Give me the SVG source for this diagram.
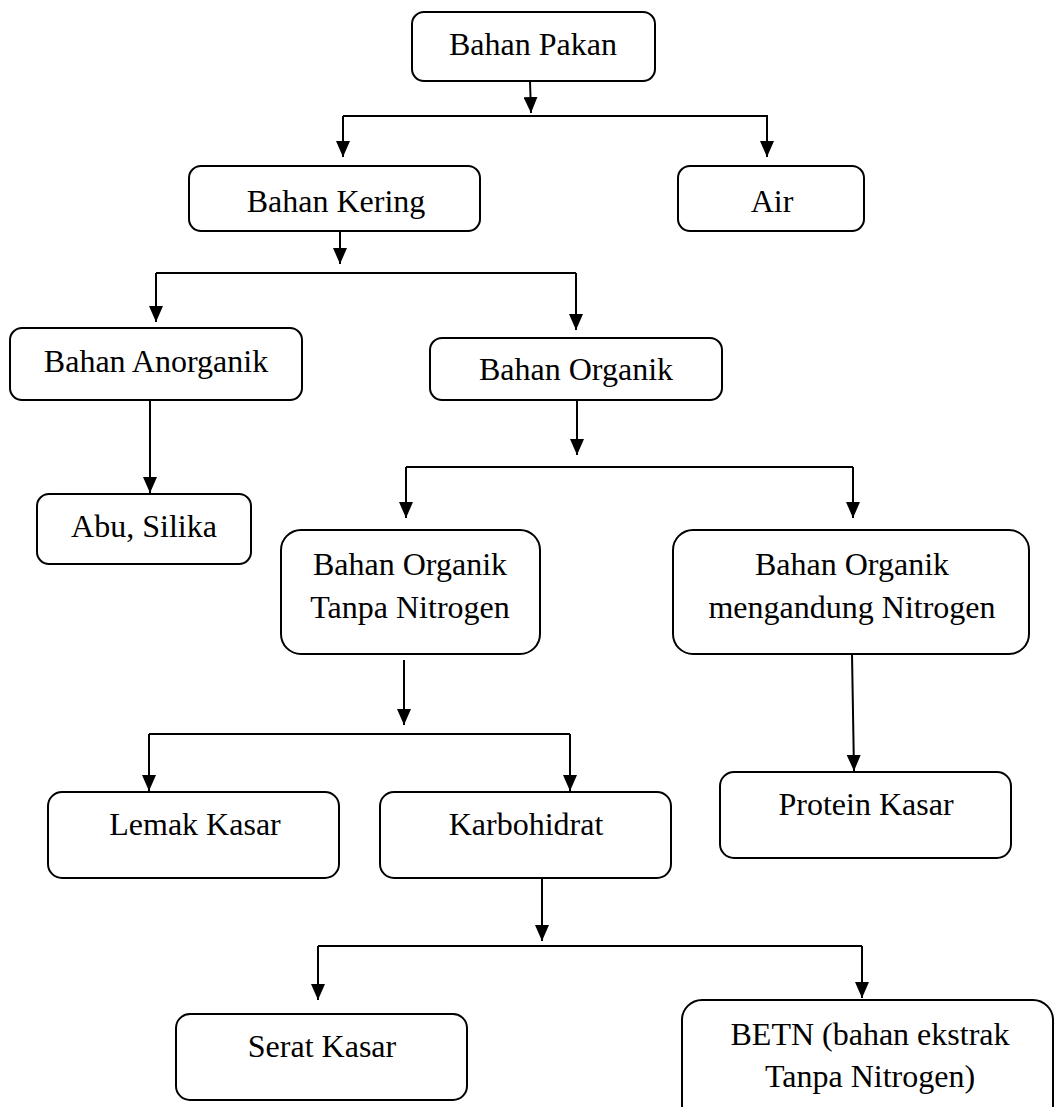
<svg xmlns="http://www.w3.org/2000/svg" width="1054" height="1107" viewBox="0 0 1054 1107">
<style>
.box{fill:#fff;stroke:#000;stroke-width:2}
.lbl{font-family:"Liberation Serif","Times New Roman",serif;font-size:32px;fill:#000;text-anchor:middle}
.con{fill:none;stroke:#000;stroke-width:2}
.arr{marker-end:url(#ah)}
</style>
<defs>
<marker id="ah" viewBox="0 0 16 14" refX="16" refY="7" markerWidth="16" markerHeight="14" markerUnits="userSpaceOnUse" orient="auto">
<path d="M0,0 L16,7 L0,14 z" fill="#000"/>
</marker>
</defs>
<rect width="1054" height="1107" fill="#fff"/>
<g id="connectors">
<path class="con arr" d="M530,81 L531,113"/>
<path class="con" d="M343,116 H768"/>
<path class="con arr" d="M343,116 V157"/>
<path class="con arr" d="M767,116 V157"/>
<path class="con arr" d="M340,231 V264"/>
<path class="con" d="M156,273 H576"/>
<path class="con arr" d="M156,273 V322"/>
<path class="con arr" d="M576,273 V330"/>
<path class="con arr" d="M150,400 V493"/>
<path class="con arr" d="M577,400 V455"/>
<path class="con" d="M406,467 H853"/>
<path class="con arr" d="M406,467 V518"/>
<path class="con arr" d="M853,467 V518"/>
<path class="con arr" d="M404,660 V725"/>
<path class="con" d="M149,734 H570"/>
<path class="con arr" d="M149,734 V791"/>
<path class="con arr" d="M570,734 V791"/>
<path class="con arr" d="M852,654 L854,771"/>
<path class="con arr" d="M542,878 V941"/>
<path class="con" d="M318,946 H862"/>
<path class="con arr" d="M318,946 V1000"/>
<path class="con arr" d="M862,946 V998"/>
</g>
<g id="bahan-pakan"><rect class="box" x="412" y="12" width="243" height="69" rx="12"/><text class="lbl" x="533" y="55">Bahan Pakan</text></g>
<g id="bahan-kering"><rect class="box" x="189" y="166" width="291" height="65" rx="12"/><text class="lbl" x="336" y="212">Bahan Kering</text></g>
<g id="air"><rect class="box" x="678" y="166" width="186" height="65" rx="12"/><text class="lbl" x="772" y="212">Air</text></g>
<g id="bahan-anorganik"><rect class="box" x="10" y="328" width="292" height="72" rx="12"/><text class="lbl" x="156" y="372">Bahan Anorganik</text></g>
<g id="bahan-organik"><rect class="box" x="430" y="338" width="292" height="62" rx="12"/><text class="lbl" x="576" y="380">Bahan Organik</text></g>
<g id="abu-silika"><rect class="box" x="37" y="494" width="214" height="70" rx="12"/><text class="lbl" x="144" y="537">Abu, Silika</text></g>
<g id="organik-tanpa-n"><rect class="box" x="281" y="530" width="259" height="124" rx="20"/><text class="lbl" x="410" y="575">Bahan Organik</text><text class="lbl" x="410" y="618">Tanpa Nitrogen</text></g>
<g id="organik-mengandung-n"><rect class="box" x="673" y="530" width="356" height="124" rx="20"/><text class="lbl" x="852" y="575">Bahan Organik</text><text class="lbl" x="852" y="618">mengandung Nitrogen</text></g>
<g id="lemak-kasar"><rect class="box" x="48" y="792" width="291" height="86" rx="14"/><text class="lbl" x="195" y="835">Lemak Kasar</text></g>
<g id="karbohidrat"><rect class="box" x="380" y="792" width="291" height="86" rx="14"/><text class="lbl" x="526" y="835">Karbohidrat</text></g>
<g id="protein-kasar"><rect class="box" x="720" y="772" width="291" height="86" rx="14"/><text class="lbl" x="866" y="815">Protein Kasar</text></g>
<g id="serat-kasar"><rect class="box" x="176" y="1014" width="291" height="86" rx="14"/><text class="lbl" x="322" y="1057">Serat Kasar</text></g>
<g id="betn"><rect class="box" x="682" y="1000" width="371" height="140" rx="20"/><text class="lbl" x="870" y="1045">BETN (bahan ekstrak</text><text class="lbl" x="870" y="1087">Tanpa Nitrogen)</text></g>
</svg>
